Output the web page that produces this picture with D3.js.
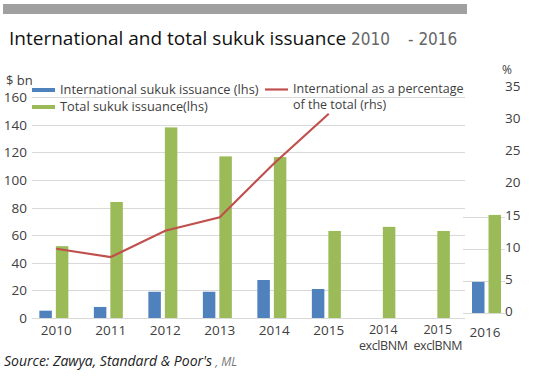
<!DOCTYPE html>
<html>
<head>
<meta charset="utf-8">
<script src="https://cdn.jsdelivr.net/npm/d3@7"></script>
<style>
  body { margin: 0; background: #fff; }
  svg { display: block; font-family: "Open Sans", sans-serif; }
</style>
</head>
<body>
<svg id="chart" width="551" height="379"></svg>
<script>
// data
var categories = ["2010", "2011", "2012", "2013", "2014", "2015", "2014|exclBNM", "2015|exclBNM"];
var intlIssuance = [5.3, 8, 19, 19, 27.5, 21, null, null];
var totalIssuance = [52, 84, 138, 117, 116.5, 63, 66, 63];
var intlShare = [10, 8.7, 12.8, 14.9, 23.3, 31];      // % of total, 2010-2015
var lastYear = ["2016"];
var intl2016 = [22.5];
var total2016 = [71];
var leftTicks = [0, 20, 40, 60, 80, 100, 120, 140, 160];
var rightTicks = [0, 5, 10, 15, 20, 25, 30, 35];

var BLUE = "#4f81bd", GREEN = "#9bbb59", RED = "#c0504d", TXT = "#404040", GRID = "#d9d9d9";

var svg = d3.select("#chart");

// top bar + title
svg.append("rect").attr("x", 3).attr("y", 4).attr("width", 464).attr("height", 10).attr("fill", "#a0a0a0");
var title = svg.append("text").attr("x", 9).attr("y", 45).attr("font-size", 19).attr("fill", "#111");
title.append("tspan").text("International and total sukuk issuance ");
title.append("tspan").attr("font-family", "DejaVu Sans Condensed, sans-serif").attr("font-size", 17)
  .attr("fill", "#666").text("2010");
title.append("tspan").attr("font-family", "DejaVu Sans Condensed, sans-serif").attr("font-size", 17)
  .attr("fill", "#666").attr("dx", 18).text("- 2016");

var x = d3.scaleBand().domain(categories).range([29, 465]).paddingInner(0.38).paddingOuter(0.19);
var y = d3.scaleLinear().domain([0, 160]).range([318, 97]);
var yR = d3.scaleLinear().domain([0, 35]).range([313, 88]);

// 2016 inset shares the right axis baseline
var x16 = d3.scaleBand().domain(lastYear).range([463, 505]).paddingInner(0).paddingOuter(0.2);
var y16 = d3.scaleLinear().domain([0, 160]).range([313, 313 - 221]);

// grid
svg.append("g").selectAll("line").data(leftTicks).join("line")
  .attr("x1", 32).attr("x2", 465)
  .attr("y1", function (d) { return Math.round(y(d)) + 0.5; })
  .attr("y2", function (d) { return Math.round(y(d)) + 0.5; })
  .attr("stroke", GRID).attr("stroke-width", 1.2);
svg.append("g").selectAll("line").data([0, 5, 10, 15]).join("line")
  .attr("x1", 463).attr("x2", 505)
  .attr("y1", function (d) { return Math.round(yR(d)) + 0.5; })
  .attr("y2", function (d) { return Math.round(yR(d)) + 0.5; })
  .attr("stroke", GRID).attr("stroke-width", 1.2);

// left axis labels
svg.append("g").selectAll("text").data(leftTicks).join("text")
  .attr("x", 27).attr("y", function (d) { return y(d) + 5; })
  .attr("text-anchor", "end").attr("font-size", 13.5).attr("fill", TXT)
  .text(function (d) { return d; });
svg.append("text").attr("x", 6).attr("y", 85).attr("font-size", 13).attr("fill", TXT).text("$ bn");

// right axis labels
svg.append("g").selectAll("text").data(rightTicks).join("text")
  .attr("x", 505).attr("y", function (d) { return yR(d) + 3; })
  .attr("font-size", 13.5).attr("fill", TXT)
  .text(function (d) { return d; });
svg.append("text").attr("x", 502).attr("y", 74).attr("font-size", 12).attr("fill", TXT).text("%");

// bars
var bw = 12.5;
var groups = svg.append("g").selectAll("g").data(categories).join("g")
  .attr("transform", function (d) { return "translate(" + x(d) + ",0)"; });
groups.append("rect")
  .attr("x", 0).attr("width", bw)
  .attr("y", function (d, i) { return y(intlIssuance[i] || 0); })
  .attr("height", function (d, i) { return y(0) - y(intlIssuance[i] || 0); })
  .attr("fill", BLUE);
groups.append("rect")
  .attr("x", bw + 4).attr("width", bw)
  .attr("y", function (d, i) { return y(totalIssuance[i]); })
  .attr("height", function (d, i) { return y(0) - y(totalIssuance[i]); })
  .attr("fill", GREEN);

var g16 = svg.append("g").attr("transform", "translate(" + (x16("2016") + 3) + ",0)");
g16.append("rect").attr("x", 0).attr("width", bw).attr("y", y16(intl2016[0]))
  .attr("height", y16(0) - y16(intl2016[0])).attr("fill", BLUE);
g16.append("rect").attr("x", bw + 4).attr("width", bw).attr("y", y16(total2016[0]))
  .attr("height", y16(0) - y16(total2016[0])).attr("fill", GREEN);

// x labels
var xl = svg.append("g").selectAll("text").data(categories).join("text")
  .attr("text-anchor", "middle").attr("font-size", 13.5).attr("fill", TXT)
  .attr("transform", function (d) { return "translate(" + (x(d) + x.bandwidth() / 2) + ",335)"; });
xl.each(function (d) {
  var parts = d.split("|"), t = d3.select(this);
  if (parts[1]) {
    t.attr("font-size", 12.5);
    t.append("tspan").attr("x", 0).attr("dy", -1).text(parts[0]);
    t.append("tspan").attr("x", 0).attr("dy", 16).attr("letter-spacing", -0.4).text(parts[1]);
  } else {
    t.text(parts[0]);
  }
});
svg.append("text").attr("x", x16("2016") + x16.bandwidth() / 2 + 1).attr("y", 337)
  .attr("text-anchor", "middle").attr("font-size", 13.5).attr("fill", TXT).text("2016");

// line
var line = d3.line()
  .x(function (d, i) { return x(categories[i]) + x.bandwidth() / 2; })
  .y(function (d) { return yR(d); });
svg.append("path").datum(intlShare).attr("d", line)
  .attr("fill", "none").attr("stroke", RED).attr("stroke-width", 2.2);

// legend
var lg = svg.append("g").attr("fill", TXT);
lg.append("rect").attr("x", 32).attr("y", 88).attr("width", 23).attr("height", 4).attr("fill", BLUE);
lg.append("text").attr("x", 60).attr("y", 94).attr("font-size", 12.8).text("International sukuk issuance (lhs)");
lg.append("rect").attr("x", 32).attr("y", 105).attr("width", 23).attr("height", 4).attr("fill", GREEN);
lg.append("text").attr("x", 60).attr("y", 111).attr("font-size", 12.8).text("Total sukuk issuance(lhs)");
lg.append("line").attr("x1", 265).attr("x2", 288).attr("y1", 89.5).attr("y2", 89.5)
  .attr("stroke", RED).attr("stroke-width", 2.2);
lg.append("text").attr("x", 293).attr("y", 93).attr("font-size", 12.5).text("International as a percentage");
lg.append("text").attr("x", 293).attr("y", 109).attr("font-size", 12.5).text("of the total (rhs)");

// source
var src = svg.append("text").attr("x", 4).attr("y", 366).attr("font-size", 14)
  .attr("font-style", "italic").attr("fill", "#222");
src.append("tspan").text("Source: Zawya, Standard & Poor's");
src.append("tspan").attr("fill", "#777").attr("font-size", 12).text(" ,  ML");
</script>
</body>
</html>
